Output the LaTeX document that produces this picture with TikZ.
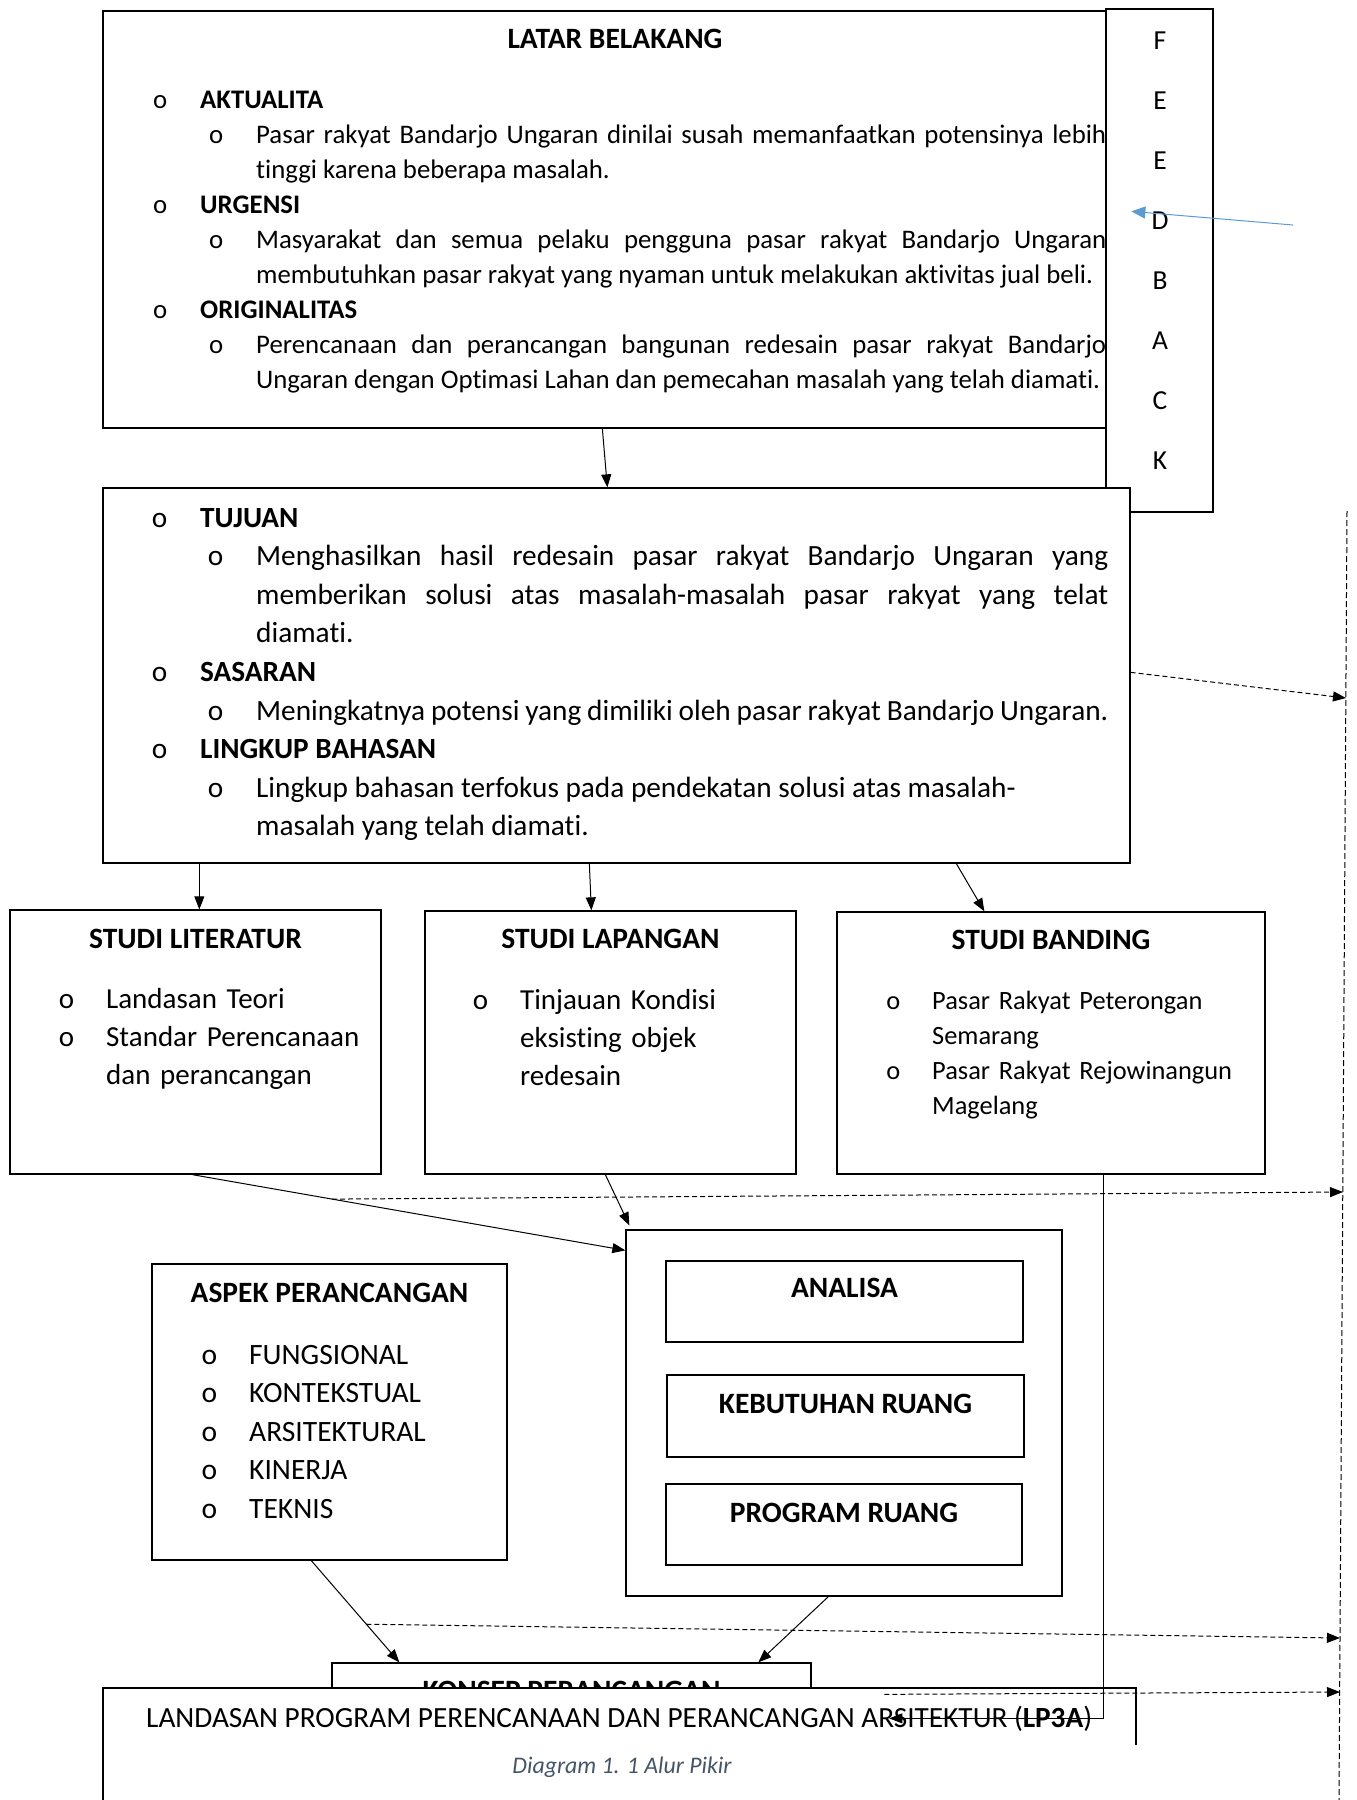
\documentclass[tikz,border=0pt]{standalone}
\usepackage{fontspec}
\setmainfont{Carlito}[Ligatures=NoCommon]
\usepackage{xcolor}
\usetikzlibrary{arrows.meta}
\definecolor{fbblue}{HTML}{5B9BD5}
\definecolor{capgray}{HTML}{44546A}
% bullet items: heading level, sub level, short item
\newcommand{\itemhead}[1]{\leftskip=0pt\noindent\llap{o\hspace{33pt}}\textbf{#1}\par}
\newcommand{\itemsub}[1]{\leftskip=56pt\noindent\llap{o\hspace{33pt}}#1\par}
\newcommand{\itemplain}[1]{\leftskip=0pt\noindent\llap{o\hspace{32pt}}#1\par}

\begin{document}
\begin{tikzpicture}[x=1pt, y=1pt,
  box/.style={draw, line width=1.3pt, fill=white, inner sep=0pt},
  head/.style={font=\fontsize{29.5}{33}\selectfont\bfseries, inner sep=0pt},
  body/.style={anchor=base west, inner sep=0pt},
  flow/.style={-{Triangle[length=13pt,width=10pt]}, line width=1pt},
  evalarrow/.style={flow, dash pattern=on 5pt off 3pt}
]
\useasboundingbox (0,0) rectangle (1357,-1800);

% latar belakang with feedback column
\node[box, minimum width=1032pt, minimum height=417pt] (latar) at (619,-219.5) {};
\node[head] (tlatar) at ([xshift=-4pt,yshift=-29pt]latar.north) {LATAR BELAKANG};
\node[body, text width=906pt, align=justify, font=\fontsize{26.8}{35}\selectfont] (ilatar) at (200,-108) {%
  \itemhead{AKTUALITA}%
  \itemsub{Pasar rakyat Bandarjo Ungaran dinilai susah memanfaatkan potensinya lebih\linebreak tinggi karena beberapa masalah.}%
  \itemhead{URGENSI}%
  \itemsub{Masyarakat dan semua pelaku pengguna pasar rakyat Bandarjo Ungaran\linebreak membutuhkan pasar rakyat yang nyaman untuk melakukan aktivitas jual beli.}%
  \itemhead{ORIGINALITAS}%
  \itemsub{Perencanaan dan perancangan bangunan redesain pasar rakyat Bandarjo\linebreak Ungaran dengan Optimasi Lahan dan pemecahan masalah yang telah diamati.}};

\node[box, minimum width=107pt, minimum height=503pt] (feedback) at (1159.5,-260.5) {};
\node[body, anchor=base, text width=40pt, align=center, font=\fontsize{27.5}{60}\selectfont] (tfeedback) at (1160,-49) {F\\E\\E\\D\\B\\A\\C\\K};
\coordinate (fbtail) at (1293,-225);
\draw[fbblue, line width=1pt, -{Triangle[length=14pt,width=12pt]}] (fbtail) -- ([xshift=26pt,yshift=-203pt]feedback.north west);

% tujuan, sasaran, lingkup
\node[box, minimum width=1027pt, minimum height=375pt] (tujuan) at (616.5,-675.5) {};
\node[body, text width=908pt, align=justify, font=\fontsize{29.3}{38.6}\selectfont] (itujuan) at (200,-527) {%
  \itemhead{TUJUAN}%
  \itemsub{Menghasilkan hasil redesain pasar rakyat Bandarjo Ungaran yang\linebreak memberikan solusi atas masalah-masalah pasar rakyat yang telat\linebreak diamati.}%
  \itemhead{SASARAN}%
  \itemsub{Meningkatnya potensi yang dimiliki oleh pasar rakyat Bandarjo Ungaran.}%
  \itemhead{LINGKUP BAHASAN}%
  \itemsub{Lingkup bahasan terfokus pada pendekatan solusi atas masalah-\newline masalah yang telah diamati.}};

\draw[flow] ([xshift=500pt]latar.south west) -- ([xshift=505pt]tujuan.north west);

% studi
\node[box, minimum width=371pt, minimum height=264pt] (lit) at (195.5,-1042) {};
\node[head] (tlit) at ([yshift=-30pt]lit.north) {STUDI LITERATUR};
\node[body, text width=270pt, align=left, font=\fontsize{29}{38}\selectfont] (ilit) at (106,-1008) {%
  \itemplain{Landasan Teori}%
  \itemplain{Standar Perencanaan\newline dan perancangan}};

\node[box, minimum width=371pt, minimum height=263pt] (lap) at (610.5,-1042.5) {};
\node[head] (tlap) at ([yshift=-29pt]lap.north) {STUDI LAPANGAN};
\node[body, text width=270pt, align=left, font=\fontsize{29}{38}\selectfont] (ilap) at (520,-1009) {%
  \itemplain{Tinjauan Kondisi\newline eksisting objek\newline redesain}};

\node[box, minimum width=428pt, minimum height=262pt] (band) at (1051,-1043) {};
\node[head] (tband) at ([yshift=-29pt]band.north) {STUDI BANDING};
\node[body, text width=330pt, align=left, font=\fontsize{26.4}{35}\selectfont] (iband) at (932,-1009) {%
  \itemplain{Pasar Rakyat Peterongan\newline Semarang}%
  \itemplain{Pasar Rakyat Rejowinangun\newline Magelang}};

\draw[flow] ([xshift=97pt]tujuan.south west) -- ([xshift=190pt]lit.north west);
\draw[flow] ([xshift=487pt]tujuan.south west) -- ([xshift=167pt]lap.north west);
\draw[flow] ([xshift=854pt]tujuan.south west) -- ([xshift=148pt]band.north west);

% aspek dan analisa
\node[box, minimum width=355pt, minimum height=296pt] (aspek) at (329.5,-1412) {};
\node[head] (taspek) at ([yshift=-30pt]aspek.north) {ASPEK PERANCANGAN};
\node[body, text width=250pt, align=left, font=\fontsize{29.5}{38.5}\selectfont] (iaspek) at (249,-1364) {%
  \itemplain{FUNGSIONAL}%
  \itemplain{KONTEKSTUAL}%
  \itemplain{ARSITEKTURAL}%
  \itemplain{KINERJA}%
  \itemplain{TEKNIS}};

\node[box, minimum width=436pt, minimum height=366pt] (analisis) at (844,-1413) {};
\node[box, minimum width=357pt, minimum height=81pt] (analisa) at (844.5,-1301.5) {};
\node[head] (tanalisa) at ([yshift=-28pt]analisa.north) {ANALISA};
\node[box, minimum width=357pt, minimum height=82pt] (kebutuhan) at (845.5,-1416) {};
\node[head] (tkebutuhan) at ([yshift=-30pt]kebutuhan.north) {KEBUTUHAN RUANG};
\node[box, minimum width=356pt, minimum height=81pt] (program) at (844,-1524.5) {};
\node[head] (tprogram) at ([yshift=-30pt]program.north) {PROGRAM RUANG};

\draw[flow] ([xshift=183pt]lit.south west) -- coordinate[pos=0.323] (litmid) ([yshift=-21pt]analisis.north west);
\draw[flow] ([xshift=181pt]lap.south west) -- ([xshift=4pt,yshift=4pt]analisis.north west);

% konsep dan lp3a
\node[box, minimum width=479pt, minimum height=77pt] (konsep) at (571.5,-1701.5) {};
\node[head] (tkonsep) at ([yshift=-29pt]konsep.north) {KONSEP PERANCANGAN};
\draw[flow] ([xshift=160pt]aspek.south west) -- coordinate[pos=0.625] (aspmid) ([xshift=68pt]konsep.north west);
\draw[flow] ([xshift=203pt]analisis.south west) -- ([xshift=427pt]konsep.north west);

\node[box, minimum width=1033pt, minimum height=142pt] (lp3a) at (619.5,-1759) {};
\node[body, font=\fontsize{29.3}{34}\selectfont] (tlp3a) at (146,-1727) {LANDASAN PROGRAM PERENCANAAN DAN PERANCANGAN ARSITEKTUR (\textbf{LP3A})};
\node[font=\fontsize{23.8}{28}\selectfont\itshape, text=capgray, fill=white, minimum width=1030pt, text height=28pt, text depth=40pt, inner ysep=0pt, anchor=north] (caption) at (622,-1745) {Diagram 1. 1 Alur Pikir};

\draw[flow, line width=0.8pt] ([xshift=267pt]band.south west) |- ([xshift=787pt,yshift=-31pt]lp3a.north west);

% evaluasi (garis putus-putus kanan)
\coordinate (evtop) at (1347,-511);
\coordinate (evbot) at (1339,-1800);
\draw[line width=1pt, dash pattern=on 6pt off 3pt] (evtop) -- (evbot);
\coordinate (ev1) at (1346,-698);
\coordinate (ev2) at (1343,-1192);
\coordinate (ev3) at (1340,-1638);
\coordinate (ev4) at (1340,-1692);
\coordinate (lpstart) at ([xshift=782pt,yshift=-7pt]lp3a.north west);
\draw[evalarrow] ([yshift=-185pt]tujuan.north east) -- (ev1);
\draw[evalarrow] (litmid) -- (ev2);
\draw[evalarrow] (aspmid) -- (ev3);
\draw[evalarrow] (lpstart) -- (ev4);
\end{tikzpicture}
\end{document}
